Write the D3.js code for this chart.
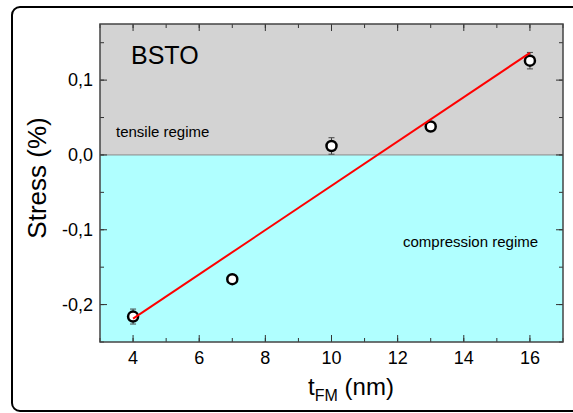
<!DOCTYPE html>
<html>
<head>
<meta charset="utf-8">
<script src="https://cdn.jsdelivr.net/npm/d3@7"></script>
<style>
  body { margin: 0; background: #fff; }
  svg { display: block; font-family: "Liberation Sans", Arial, sans-serif; }
</style>
</head>
<body>
<svg id="chart" width="573" height="413"></svg>
<script>
// data
const thickness = [4, 7, 10, 13, 16];
const stress = [-0.216, -0.166, 0.012, 0.038, 0.126];
const stressErr = [0.010, 0.004, 0.011, 0.004, 0.011];
const xTicks = [4, 6, 8, 10, 12, 14, 16];
const yTicks = [-0.2, -0.1, 0.0, 0.1];

const svg = d3.select('#chart');
const m = { left: 100, right: 563, top: 24, bottom: 342 };

const x = d3.scaleLinear().domain([3, 17]).range([m.left, m.right]);
const y = d3.scaleLinear().domain([-0.25, 0.175]).range([m.bottom, m.top]);

// outer frame
svg.append('rect')
  .attr('x', 12).attr('y', 7).attr('width', 575).attr('height', 404)
  .attr('rx', 8).attr('ry', 8)
  .attr('fill', 'none').attr('stroke', '#000').attr('stroke-width', 2);

// regime backgrounds
svg.append('rect')
  .attr('x', m.left).attr('y', y(0.175))
  .attr('width', m.right - m.left).attr('height', y(0) - y(0.175))
  .attr('fill', '#d3d3d3');
svg.append('rect')
  .attr('x', m.left).attr('y', y(0))
  .attr('width', m.right - m.left).attr('height', y(-0.25) - y(0))
  .attr('fill', '#b0ffff');
svg.append('line')
  .attr('x1', m.left).attr('x2', m.right)
  .attr('y1', y(0)).attr('y2', y(0))
  .attr('stroke', '#888').attr('stroke-width', 1);

// axes, ticks pointing in
const minorX = d3.range(3, 18, 1);
const minorY = d3.range(-0.25, 0.176, 0.05);
const tickColor = '#333';

function addTicks(vals, isX, pos, len) {
  svg.append('g').selectAll('line').data(vals).join('line')
    .attr('x1', d => isX ? x(d) : pos)
    .attr('x2', d => isX ? x(d) : pos + len)
    .attr('y1', d => isX ? pos : y(d))
    .attr('y2', d => isX ? pos + len : y(d))
    .attr('stroke', tickColor).attr('stroke-width', 1);
}
addTicks(minorX, true, m.bottom, -4);
addTicks(xTicks, true, m.bottom, -7);
addTicks(minorX, true, m.top, 4);
addTicks(xTicks, true, m.top, 7);
addTicks(minorY, false, m.left, 4);
addTicks(yTicks, false, m.left, 7);
addTicks(minorY, false, m.right, -4);
addTicks(yTicks, false, m.right, -7);

svg.append('rect')
  .attr('x', m.left).attr('y', m.top)
  .attr('width', m.right - m.left).attr('height', m.bottom - m.top)
  .attr('fill', 'none').attr('stroke', '#444').attr('stroke-width', 1.5);

// tick labels
svg.append('g').selectAll('text').data(xTicks).join('text')
  .attr('x', d => x(d)).attr('y', 364)
  .attr('text-anchor', 'middle').attr('font-size', 18)
  .text(d => d);
svg.append('g').selectAll('text').data(yTicks).join('text')
  .attr('x', 93).attr('y', d => y(d) + 6)
  .attr('text-anchor', 'end').attr('font-size', 18)
  .text(d => d3.format('.1f')(d).replace('.', ',').replace('−', '-'));

// axis titles
svg.append('text')
  .attr('transform', 'translate(46,178) rotate(-90)')
  .attr('text-anchor', 'middle').attr('font-size', 26)
  .text('Stress (%)');
const xt = svg.append('text')
  .attr('x', 351).attr('y', 395)
  .attr('text-anchor', 'middle').attr('font-size', 24);
xt.append('tspan').text('t');
xt.append('tspan').attr('font-size', 16).attr('dy', 6).text('FM');
xt.append('tspan').attr('dy', -6).text(' (nm)');

// annotations
svg.append('text').attr('x', 131).attr('y', 64).attr('font-size', 25).text('BSTO');
svg.append('text').attr('x', 116).attr('y', 137).attr('font-size', 15).text('tensile regime');
svg.append('text').attr('x', 403).attr('y', 247).attr('font-size', 15).text('compression regime');

// linear fit computed from the points
const mx = d3.mean(thickness), my = d3.mean(stress);
const slope = d3.sum(thickness, (t, i) => (t - mx) * (stress[i] - my)) /
              d3.sum(thickness, t => (t - mx) * (t - mx));
const icpt = my - slope * mx;
const ends = d3.extent(thickness);

// error bars
const pts = thickness.map((t, i) => ({ t, s: stress[i], e: stressErr[i] }));
const eb = svg.append('g').attr('stroke', '#444').attr('stroke-width', 1);
pts.forEach(p => {
  eb.append('line').attr('x1', x(p.t)).attr('x2', x(p.t))
    .attr('y1', y(p.s - p.e)).attr('y2', y(p.s + p.e));
  [p.s - p.e, p.s + p.e].forEach(v => {
    eb.append('line').attr('x1', x(p.t) - 3).attr('x2', x(p.t) + 3)
      .attr('y1', y(v)).attr('y2', y(v));
  });
});

svg.append('g').selectAll('circle').data(pts).join('circle')
  .attr('cx', d => x(d.t)).attr('cy', d => y(d.s)).attr('r', 5)
  .attr('fill', '#fff').attr('stroke', '#000').attr('stroke-width', 2.5);

svg.append('line')
  .attr('x1', x(ends[0])).attr('y1', y(icpt + slope * ends[0]))
  .attr('x2', x(ends[1])).attr('y2', y(icpt + slope * ends[1]))
  .attr('stroke', '#ff0000').attr('stroke-width', 2);
</script>
</body>
</html>
